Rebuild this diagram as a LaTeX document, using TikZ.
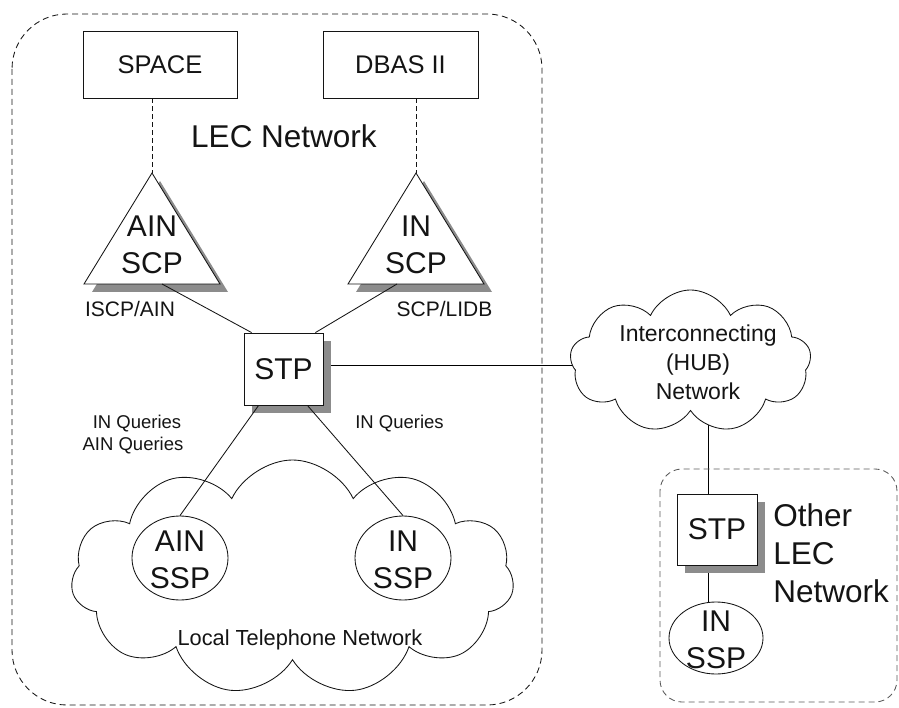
\documentclass[tikz,border=0pt]{standalone}
\usepackage{fontspec}
\setmainfont{Liberation Sans}
\usetikzlibrary{shapes.symbols,shapes.geometric,shadows}
\definecolor{shd}{RGB}{140,140,140}
\definecolor{ink}{RGB}{20,20,20}
\definecolor{softink}{RGB}{90,90,90}
\pgfdeclarelayer{bg}
\pgfsetlayers{bg,main}
\begin{document}
\begin{tikzpicture}[x=1pt,y=-1pt,line width=0.85pt,color=ink,
  box/.style={draw,rectangle,inner sep=0pt,fill=white},
  shadowed/.style={drop shadow={shadow xshift=8pt,shadow yshift=-8pt,fill=shd,opacity=1}},
  big/.style={font=\fontsize{30}{37}\selectfont,align=center,inner sep=0pt},
  smalltext/.style={font=\fontsize{21}{26}\selectfont,inner sep=0pt},
  tinytext/.style={font=\fontsize{18.5}{22}\selectfont,inner sep=0pt},
  ell/.style={draw,ellipse,inner sep=0pt,fill=white},
  cloudy/.style={draw,cloud,fill=white,inner sep=0pt,cloud puff arc=130},
  regionline/.style={dash pattern=on 6pt off 4pt,rounded corners=55pt},
  otherline/.style={draw=softink,dash pattern=on 6pt off 4pt,rounded corners=22pt},
  dashline/.style={dash pattern=on 5pt off 3pt}]
\useasboundingbox (0,0) rectangle (899,708);

% LEC region
\draw[regionline] (12,14) rectangle (542,705);

% databases
\node[box,minimum width=154pt,minimum height=67pt,font=\fontsize{25.5}{30}\selectfont] (space) at (160,64.5) {SPACE};
\node[box,minimum width=155pt,minimum height=67pt,font=\fontsize{25.5}{30}\selectfont] (dbas) at (400.5,64.5) {DBAS II};
\node[anchor=base,font=\fontsize{31.5}{36}\selectfont,inner sep=0pt] (lec) at (284,148) {LEC Network};

% SCP triangles
\coordinate (apexA) at (152,173);
\coordinate (apexB) at (416,173);
\filldraw[fill=white,shadowed] (apexA) -- (220,284) -- (84,284) -- cycle;
\filldraw[fill=white,shadowed] (apexB) -- (484,284) -- (348,284) -- cycle;
\coordinate (scpAbase) at (162,284);
\coordinate (scpBbase) at (397,284);
\node[big,anchor=north] (scpA) at (152,215) {AIN\\SCP};
\node[big,anchor=north] (scpB) at (416,215) {IN\\SCP};
\draw[dashline] (apexA |- space.south) -- (apexA);
\draw[dashline] (apexB |- dbas.south) -- (apexB);

% STP
\node[box,shadowed,minimum width=79pt,minimum height=72pt,big] (stp) at (283.5,369) {STP};
\node[smalltext,anchor=base] (iscp) at (130,317) {ISCP/AIN};
\node[smalltext,anchor=base] (lidb) at (444.5,317) {SCP/LIDB};
\node[tinytext,anchor=base] (q1) at (137,428) {IN Queries};
\node[tinytext,anchor=base] (q2) at (133,450) {AIN Queries};
\node[tinytext,anchor=base] (q3) at (399.5,428) {IN Queries};
\draw ([xshift=8pt]stp.north west) -- (scpAbase);
\draw ([xshift=-8pt]stp.north east) -- (scpBbase);

% local telephone network cloud
\node[cloudy,cloud puffs=11,minimum width=443pt,minimum height=235pt] (ltn) at (292.5,577.5) {};
\node[font=\fontsize{21.8}{26}\selectfont,inner sep=0pt,anchor=base] (ltnl) at (300,645) {Local Telephone Network};
\node[ell,minimum width=96pt,minimum height=84pt] (sspA) at (180,558) {};
\node[big,anchor=north] (sspAt) at (180,530) {AIN\\SSP};
\node[ell,minimum width=96pt,minimum height=84pt] (sspB) at (403,558) {};
\node[big,anchor=north] (sspBt) at (403,530) {IN\\SSP};
\draw ([xshift=15pt]stp.south west) -- (sspA.north);
\draw ([xshift=-16pt]stp.south east) -- (sspB.north);

% hub cloud
\node[cloudy,cloud puffs=9,minimum width=241pt,minimum height=143pt] (hub) at (690.5,361.5) {};
\node[font=\fontsize{23}{29}\selectfont,align=center,inner sep=0pt,anchor=north] (hubt) at (698,324) {Interconnecting\\(HUB)\\Network};

% other LEC network
\draw[otherline] (660,469) rectangle (897,702);
\node[box,shadowed,minimum width=80pt,minimum height=71pt,big] (stp2) at (717,529.5) {STP};
\node[ell,minimum width=94pt,minimum height=72pt] (sspC) at (716,638) {};
\node[big,anchor=north] (sspCt) at (716,610) {IN\\SSP};
\node[font=\fontsize{31.5}{38}\selectfont,align=left,inner sep=0pt,anchor=north west] (other) at (773,503) {Other\\LEC\\Network};

\begin{pgfonlayer}{bg}
\draw ([yshift=4pt]stp.east) -- ([yshift=4pt]stp.east -| hub.center);
\draw ([xshift=-9pt]stp2.north) -- ([xshift=-9pt]stp2.north |- hub.center);
\draw ([xshift=-9pt]stp2.south) -- ([xshift=-9pt]stp2.south |- sspC.center);
\end{pgfonlayer}
\end{tikzpicture}
\end{document}
